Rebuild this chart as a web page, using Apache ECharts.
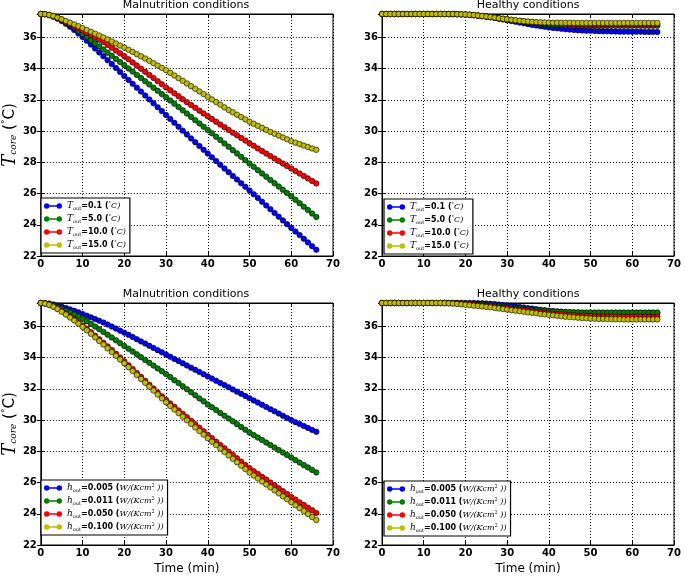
<!DOCTYPE html>
<html><head><meta charset="utf-8">
<script src="https://cdn.jsdelivr.net/npm/echarts@6/dist/echarts.min.js"></script>
<style>html,body{margin:0;padding:0;background:#fff}#c{width:685px;height:576px}</style>
</head><body><div id="c"></div>
<script>
// ---- categories (time in minutes) ----
const minutes = [0,1,2,3,4,5,6,7,8,9,10,11,12,13,14,15,16,17,18,19,20,21,22,23,24,25,26,27,28,29,30,31,32,33,34,35,36,37,38,39,40,41,42,43,44,45,46,47,48,49,50,51,52,53,54,55,56,57,58,59,60,61,62,63,64,65,66];

// ---- legend values ----
const toutValues = ['0.1','5.0','10.0','15.0'];
const houtValues = ['0.005','0.011','0.050','0.100'];

// ---- tick labels ----
const xTicks = [0,10,20,30,40,50,60,70];
const yTicks = [22,24,26,28,30,32,34,36];

// ---- Malnutrition, varying T_out (top-left) ----
const malTout01 = [37.50,37.48,37.42,37.32,37.20,37.05,36.87,36.68,36.47,36.25,
36.02,35.78,35.54,35.29,35.04,34.79,34.54,34.29,34.04,33.78,
33.53,33.28,33.03,32.78,32.53,32.28,32.03,31.78,31.53,31.28,
31.03,30.78,30.53,30.28,30.03,29.78,29.53,29.29,29.04,28.80,
28.56,28.32,28.08,27.84,27.60,27.37,27.13,26.90,26.66,26.43,
26.20,25.96,25.72,25.48,25.24,25.00,24.76,24.52,24.28,24.04,
23.80,23.57,23.34,23.10,22.87,22.63,22.40];
const malTout5 = [37.50,37.49,37.44,37.37,37.27,37.15,37.00,36.82,36.63,36.43,
36.22,36.02,35.82,35.62,35.42,35.22,35.02,34.82,34.62,34.42,
34.22,34.01,33.81,33.60,33.40,33.19,32.99,32.78,32.58,32.37,
32.17,31.96,31.75,31.54,31.33,31.12,30.91,30.70,30.49,30.28,
30.07,29.86,29.64,29.43,29.21,29.00,28.78,28.57,28.35,28.14,
27.92,27.71,27.50,27.29,27.08,26.87,26.66,26.45,26.24,26.03,
25.82,25.60,25.38,25.16,24.94,24.72,24.50];
const malTout10 = [37.50,37.49,37.44,37.36,37.25,37.12,36.99,36.86,36.72,36.59,
36.45,36.30,36.15,36.00,35.85,35.70,35.52,35.34,35.16,34.98,
34.80,34.60,34.40,34.20,34.00,33.80,33.60,33.40,33.20,33.00,
32.80,32.61,32.42,32.23,32.04,31.85,31.67,31.49,31.31,31.13,
30.95,30.77,30.60,30.42,30.25,30.07,29.90,29.73,29.56,29.39,
29.22,29.06,28.89,28.73,28.56,28.40,28.24,28.08,27.92,27.76,
27.60,27.44,27.28,27.12,26.97,26.81,26.65];
const malTout15 = [37.50,37.49,37.44,37.37,37.27,37.16,37.05,36.94,36.83,36.72,
36.60,36.48,36.36,36.24,36.12,36.00,35.87,35.74,35.61,35.48,
35.35,35.21,35.07,34.93,34.79,34.65,34.50,34.35,34.20,34.05,
33.90,33.73,33.56,33.39,33.22,33.05,32.88,32.71,32.54,32.37,
32.20,32.03,31.86,31.69,31.52,31.35,31.20,31.05,30.90,30.75,
30.60,30.47,30.34,30.21,30.08,29.95,29.83,29.71,29.59,29.47,
29.35,29.26,29.17,29.07,28.98,28.89,28.80];

// ---- Healthy, varying T_out (top-right) ----
const heaTout01 = [37.50,37.50,37.50,37.50,37.50,37.50,37.50,37.50,37.50,37.50,
37.50,37.50,37.50,37.50,37.50,37.50,37.49,37.49,37.48,37.47,
37.46,37.44,37.42,37.39,37.36,37.33,37.29,37.25,37.20,37.15,
37.10,37.05,37.00,36.95,36.90,36.85,36.80,36.76,36.72,36.68,
36.64,36.61,36.58,36.55,36.52,36.50,36.48,36.46,36.45,36.43,
36.42,36.41,36.40,36.39,36.39,36.38,36.38,36.37,36.37,36.37,
36.36,36.36,36.36,36.35,36.35,36.35,36.35];
const heaTout5 = [37.50,37.50,37.50,37.50,37.50,37.50,37.50,37.50,37.50,37.50,
37.50,37.50,37.50,37.50,37.50,37.50,37.50,37.50,37.49,37.48,
37.47,37.45,37.43,37.40,37.37,37.34,37.30,37.26,37.22,37.18,
37.14,37.10,37.06,37.02,36.98,36.95,36.92,36.89,36.86,36.84,
36.82,36.80,36.79,36.78,36.77,36.76,36.75,36.75,36.75,36.75,
36.75,36.75,36.74,36.74,36.74,36.74,36.74,36.74,36.74,36.74,
36.74,36.74,36.74,36.74,36.74,36.74,36.74];
const heaTout10 = [37.50,37.50,37.50,37.50,37.50,37.50,37.50,37.50,37.50,37.50,
37.50,37.50,37.50,37.50,37.50,37.50,37.50,37.50,37.49,37.48,
37.47,37.45,37.43,37.40,37.37,37.34,37.31,37.27,37.23,37.20,
37.16,37.12,37.09,37.06,37.03,37.00,36.98,36.96,36.94,36.92,
36.90,36.89,36.88,36.87,36.86,36.85,36.85,36.85,36.85,36.85,
36.85,36.85,36.85,36.85,36.85,36.85,36.85,36.85,36.85,36.85,
36.85,36.85,36.85,36.85,36.85,36.85,36.85];
const heaTout15 = [37.50,37.50,37.50,37.50,37.50,37.50,37.50,37.50,37.50,37.50,
37.50,37.50,37.50,37.50,37.50,37.50,37.50,37.50,37.49,37.48,
37.47,37.45,37.43,37.40,37.37,37.34,37.31,37.27,37.23,37.19,
37.16,37.13,37.10,37.07,37.04,37.02,37.00,36.98,36.97,36.96,
36.95,36.94,36.94,36.94,36.94,36.94,36.93,36.93,36.93,36.93,
36.93,36.93,36.93,36.93,36.93,36.93,36.93,36.93,36.93,36.93,
36.93,36.93,36.93,36.93,36.93,36.93,36.93];

// ---- Malnutrition, varying h_out (bottom-left) ----
const malHout005 = [37.50,37.49,37.46,37.41,37.34,37.26,37.18,37.09,37.00,36.90,
36.80,36.69,36.58,36.47,36.36,36.25,36.12,35.99,35.86,35.73,
35.60,35.46,35.32,35.18,35.04,34.90,34.76,34.62,34.48,34.34,
34.20,34.06,33.92,33.78,33.64,33.50,33.36,33.22,33.08,32.94,
32.80,32.66,32.52,32.38,32.24,32.10,31.96,31.82,31.68,31.54,
31.40,31.26,31.12,30.98,30.84,30.70,30.56,30.42,30.28,30.14,
30.00,29.87,29.75,29.62,29.50,29.37,29.25];
const malHout011 = [37.50,37.48,37.43,37.35,37.25,37.13,37.01,36.89,36.76,36.63,
36.50,36.33,36.16,35.99,35.82,35.65,35.47,35.29,35.11,34.93,
34.75,34.57,34.39,34.21,34.03,33.85,33.67,33.49,33.31,33.13,
32.95,32.76,32.56,32.37,32.17,31.98,31.78,31.59,31.39,31.20,
31.00,30.82,30.64,30.46,30.28,30.10,29.92,29.74,29.56,29.38,
29.20,29.04,28.88,28.72,28.56,28.40,28.24,28.08,27.92,27.76,
27.60,27.44,27.28,27.12,26.97,26.81,26.65];
const malHout050 = [37.50,37.47,37.40,37.28,37.14,36.98,36.81,36.63,36.45,36.26,
36.06,35.85,35.63,35.41,35.18,34.95,34.72,34.49,34.25,34.01,
33.77,33.52,33.27,33.02,32.77,32.52,32.27,32.02,31.77,31.52,
31.29,31.07,30.85,30.62,30.40,30.18,29.96,29.73,29.51,29.28,
29.05,28.84,28.62,28.41,28.19,27.98,27.77,27.55,27.34,27.12,
26.92,26.73,26.55,26.37,26.19,26.00,25.82,25.63,25.45,25.26,
25.08,24.91,24.73,24.56,24.39,24.22,24.05];
const malHout100 = [37.50,37.46,37.38,37.26,37.11,36.94,36.76,36.57,36.38,36.18,
35.97,35.75,35.53,35.30,35.07,34.84,34.60,34.36,34.12,33.88,
33.64,33.39,33.14,32.89,32.64,32.39,32.14,31.89,31.64,31.39,
31.14,30.91,30.68,30.45,30.22,29.99,29.76,29.53,29.30,29.07,
28.84,28.62,28.40,28.18,27.96,27.74,27.52,27.30,27.08,26.86,
26.64,26.45,26.26,26.07,25.88,25.69,25.50,25.31,25.12,24.93,
24.74,24.55,24.36,24.17,23.98,23.79,23.60];

// ---- Healthy, varying h_out (bottom-right) ----
const heaHout005 = [37.50,37.50,37.50,37.50,37.50,37.50,37.50,37.50,37.50,37.50,
37.50,37.50,37.50,37.50,37.50,37.50,37.50,37.50,37.50,37.50,
37.50,37.50,37.50,37.49,37.48,37.47,37.45,37.43,37.40,37.37,
37.34,37.31,37.28,37.24,37.21,37.17,37.14,37.10,37.07,37.04,
37.01,36.98,36.96,36.94,36.92,36.90,36.89,36.88,36.87,36.86,
36.86,36.85,36.85,36.85,36.85,36.85,36.85,36.85,36.85,36.85,
36.85,36.85,36.85,36.85,36.85,36.85,36.85];
const heaHout011 = [37.50,37.50,37.50,37.50,37.50,37.50,37.50,37.50,37.50,37.50,
37.50,37.50,37.50,37.50,37.50,37.50,37.50,37.50,37.50,37.49,
37.48,37.47,37.45,37.43,37.41,37.38,37.35,37.32,37.29,37.26,
37.23,37.20,37.17,37.14,37.11,37.09,37.06,37.04,37.02,37.00,
36.98,36.96,36.95,36.93,36.92,36.91,36.90,36.90,36.89,36.89,
36.89,36.89,36.89,36.89,36.89,36.89,36.89,36.89,36.89,36.89,
36.89,36.89,36.89,36.89,36.89,36.89,36.89];
const heaHout050 = [37.50,37.50,37.50,37.50,37.50,37.50,37.50,37.50,37.50,37.50,
37.50,37.50,37.50,37.50,37.50,37.50,37.50,37.49,37.48,37.46,
37.44,37.42,37.40,37.37,37.34,37.31,37.28,37.25,37.21,37.18,
37.15,37.12,37.09,37.06,37.03,37.00,36.97,36.94,36.91,36.88,
36.85,36.82,36.79,36.77,36.75,36.73,36.71,36.69,36.68,36.67,
36.66,36.65,36.64,36.64,36.63,36.63,36.62,36.62,36.62,36.62,
36.62,36.62,36.62,36.62,36.62,36.62,36.62];
const heaHout100 = [37.50,37.50,37.50,37.50,37.50,37.50,37.50,37.50,37.50,37.50,
37.50,37.50,37.50,37.50,37.50,37.49,37.48,37.46,37.44,37.41,
37.38,37.36,37.33,37.31,37.28,37.25,37.22,37.18,37.15,37.11,
37.08,37.04,37.01,36.97,36.94,36.90,36.87,36.84,36.80,36.77,
36.74,36.71,36.68,36.65,36.62,36.60,36.58,36.56,36.54,36.52,
36.50,36.49,36.48,36.48,36.47,36.47,36.46,36.46,36.45,36.45,
36.45,36.45,36.45,36.45,36.45,36.45,36.45];

const colors = ['#0000ff','#008000','#ff0000','#bfbf00'];

const panels = [
  {title:'Malnutrition conditions', grid:{left:39, top:14, width:294, height:242}, data:[malTout01,malTout5,malTout10,malTout15], kind:'T', yName:true, xName:false, legend:{left:41, top:198}},
  {title:'Healthy conditions', grid:{left:382, top:14, width:292, height:242}, data:[heaTout01,heaTout5,heaTout10,heaTout15], kind:'T', yName:false, xName:false, legend:{left:384, top:199}},
  {title:'Malnutrition conditions', grid:{left:39, top:303, width:294, height:242}, data:[malHout005,malHout011,malHout050,malHout100], kind:'h', yName:true, xName:true, legend:{left:41, top:480}},
  {title:'Healthy conditions', grid:{left:382, top:303, width:292, height:242}, data:[heaHout005,heaHout011,heaHout050,heaHout100], kind:'h', yName:false, xName:true, legend:{left:384, top:481}}
];

const labelMap = {};
const grids = [], xAxes = [], yAxes = [], series = [], legends = [], graphics = [];
const legendRich = {
  it:{fontFamily:'DejaVu Serif', fontStyle:'italic', fontSize:9, fontWeight:'normal'},
  sub:{fontFamily:'DejaVu Serif', fontSize:5, fontWeight:'normal', padding:[5,0,0,0]},
  sup:{fontFamily:'DejaVu Serif', fontSize:5, fontWeight:'normal', padding:[0,0,5,0]},
  v:{fontFamily:'DejaVu Sans', fontSize:8, fontWeight:'bold'},
  iu:{fontFamily:'DejaVu Serif', fontStyle:'italic', fontSize:8, fontWeight:'normal'}
};
const legendIcon = 'path://M0,3A3,3 0 1,1 6,3A3,3 0 1,1 0,3ZM14,3A3,3 0 1,1 20,3A3,3 0 1,1 14,3ZM5,2.3L15,2.3L15,3.7L5,3.7Z';

panels.forEach((p, i) => {
  grids.push(Object.assign({show:true, borderColor:'#000', borderWidth:1, backgroundColor:'transparent'}, p.grid));
  const cx = p.grid.left + p.grid.width / 2;
  graphics.push({type:'text', x:cx, y:p.grid.top - 9, style:{text:p.title, font:'11px "DejaVu Sans"', fill:'#000', textAlign:'center', textVerticalAlign:'middle', align:'center', verticalAlign:'middle'}});
  xAxes.push({
    gridIndex:i, type:'value', min:xTicks[0], max:xTicks[xTicks.length-1], interval:10, position:'bottom',
    name: p.xName ? 'Time (min)' : '', nameLocation:'middle', nameGap:18,
    nameTextStyle:{fontFamily:'DejaVu Sans', fontSize:12, color:'#000'},
    axisLine:{show:true, lineStyle:{color:'#000', width:1}},
    axisTick:{show:true, inside:true, length:4, lineStyle:{color:'#000'}},
    axisLabel:{color:'#000', fontFamily:'DejaVu Sans', fontWeight:'bold', fontSize:10, margin:3},
    splitLine:{show:true, lineStyle:{color:'#000', type:[1,2], width:1}}
  });
  xAxes.push({
    gridIndex:i, type:'value', min:0, max:70, interval:10, position:'top',
    axisLine:{show:true, lineStyle:{color:'#000'}}, axisTick:{show:true, inside:true, length:4, lineStyle:{color:'#000'}},
    axisLabel:{show:false}, splitLine:{show:false}
  });
  yAxes.push({
    gridIndex:i, type:'value', min:yTicks[0], max:37.5, interval:2, position:'left',
    name: p.yName ? '{t|T}{s|core}{n| (}{sp|°}{n|C)}' : '', nameLocation:'middle', nameRotate:90, nameGap:16,
    nameTextStyle:{color:'#000', rich:{
      t:{fontFamily:'DejaVu Serif', fontStyle:'italic', fontSize:18, color:'#000'},
      s:{fontFamily:'DejaVu Serif', fontStyle:'italic', fontSize:9, color:'#000', padding:[8,0,0,0]},
      n:{fontFamily:'DejaVu Sans', fontSize:15, color:'#000'},
      sp:{fontFamily:'DejaVu Sans', fontSize:9, color:'#000', padding:[0,0,8,0]}
    }},
    axisLine:{show:true, lineStyle:{color:'#000'}},
    axisTick:{show:true, inside:true, length:4, lineStyle:{color:'#000'}},
    axisLabel:{color:'#000', fontFamily:'DejaVu Sans', fontWeight:'bold', fontSize:10, margin:4,
      formatter: v => (yTicks.indexOf(v) >= 0 ? String(v) : '')},
    splitLine:{show:true, lineStyle:{color:'#000', type:[1,2], width:1}}
  });
  yAxes.push({
    gridIndex:i, type:'value', min:22, max:37.5, interval:2, position:'right',
    axisLine:{show:true, lineStyle:{color:'#000'}}, axisTick:{show:true, inside:true, length:4, lineStyle:{color:'#000'}},
    axisLabel:{show:false}, splitLine:{show:false}
  });
  const names = [];
  p.data.forEach((vals, j) => {
    const name = 'p' + i + 's' + j;
    names.push(name);
    labelMap[name] = p.kind === 'T'
      ? '{it|T}{sub|out}{v|=' + toutValues[j] + ' (}{sup|°}{iu|C)}'
      : '{it|h}{sub|out}{v|=' + houtValues[j] + ' (}{iu|W/(Kcm}{sup|2}{iu| ))}';
    series.push({
      name, type:'line', xAxisIndex:2*i, yAxisIndex:2*i,
      data: minutes.map((m, k) => [m, vals[k]]),
      color: colors[j],
      showSymbol:true, showAllSymbol:true, symbol:'circle', symbolSize:5.5,
      lineStyle:{color:colors[j], width:1.5},
      itemStyle:{color:colors[j], borderColor:'#000', borderWidth:0.6},
      emphasis:{disabled:true}, animation:false
    });
  });
  legends.push({
    left:p.legend.left, top:p.legend.top, orient:'vertical', data:names,
    itemGap:3, itemWidth:18, itemHeight:6, padding:[3,4,3,3], icon:legendIcon,
    itemStyle:{borderWidth:0},
    borderColor:'#000', borderWidth:1.2, backgroundColor:'#fff', borderRadius:0,
    formatter: n => labelMap[n], selectedMode:false,
    textStyle:{fontSize:9, color:'#000', rich:legendRich}
  });
});

const chart = echarts.init(document.getElementById('c'), null, {renderer:'canvas'});
chart.setOption({
  animation:false, backgroundColor:'#fff',
  grid:grids, xAxis:xAxes, yAxis:yAxes, series, legend:legends, graphic:graphics
});
</script></body></html>
